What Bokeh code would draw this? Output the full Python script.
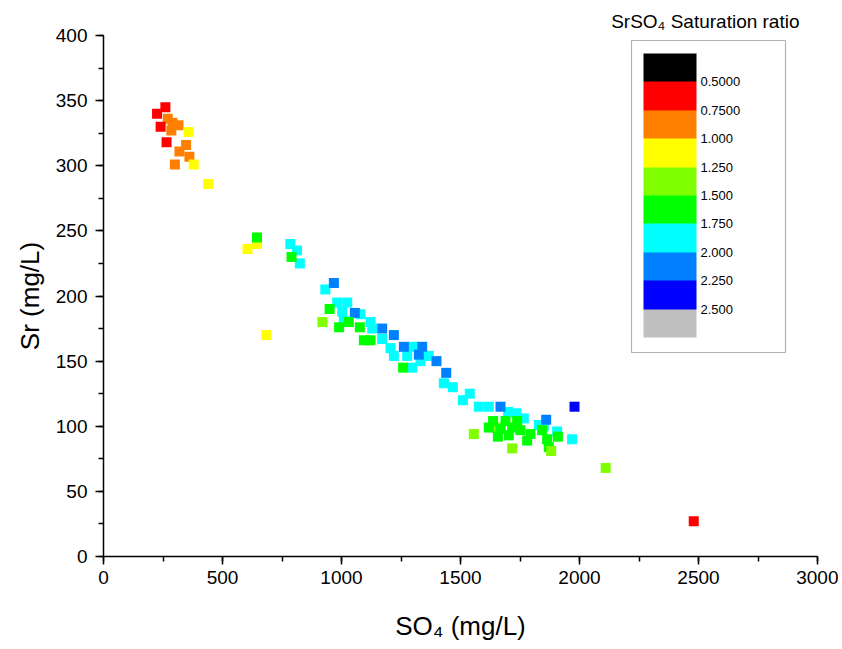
from bokeh.plotting import figure
from bokeh.models import (ColumnDataSource, LinearColorMapper, ColorBar, FixedTicker,
                          BoxAnnotation, SingleIntervalTicker, AllLabels)
from bokeh.transform import transform
from bokeh.embed import file_html
from bokeh.resources import INLINE

# ---- data (SO4 mg/L, Sr mg/L), grouped by SrSO4 saturation ratio class ----
orange_so4 = [270, 290, 315, 285, 347, 319, 361, 300]
orange_sr = [336, 333, 331, 327, 316, 311, 307, 301]
orange_ratio = 0.9

red_so4 = [260, 225, 240, 265, 2480]
red_sr = [345, 340, 330, 318, 27]
red_ratio = 0.6

yellow_so4 = [358, 379, 440, 605, 645, 685]
yellow_sr = [326, 301, 286, 236, 240, 170]
yellow_ratio = 1.1

yg_hidden_so4 = [1650]
yg_hidden_sr = [99]

cyan_so4 = [785, 813, 825, 932, 982, 1024, 1003, 1010, 1080, 1122, 1129, 1171, 1206,
            1220, 1297, 1276, 1332, 1297, 1367, 1430, 1468, 1539, 1510, 1577, 1619,
            1700, 1735, 1766, 1829, 1850, 1906, 1969]
cyan_sr = [240, 235, 225, 205, 195, 195, 188, 181, 186, 180, 175, 167, 160,
           154, 161, 154, 150, 145, 154, 133, 130, 125, 120, 115, 115,
           111, 110, 106, 101, 100, 96, 90]
cyan_ratio = 1.9

azure_so4 = [968, 1056, 1171, 1220, 1262, 1339, 1325, 1399, 1440, 1668, 1860]
azure_sr = [210, 187, 175, 170, 161, 161, 155, 150, 141, 115, 105]
azure_ratio = 2.1

green_so4 = [645, 790, 950, 990, 1031, 1077, 1094, 1122, 1259, 1637, 1689, 1738,
             1619, 1668, 1717, 1752, 1794, 1843, 1864, 1657, 1703, 1780, 1909, 1871]
green_sr = [245, 230, 190, 176, 180, 176, 166, 166, 145, 104, 104, 104,
            99, 98, 99, 97, 94, 97, 90, 92, 93, 89, 92, 84]
green_ratio = 1.6

yg_so4 = [920, 1556, 1717, 1881, 2110]
yg_sr = [180, 94, 83, 81, 68]
yg_ratio = 1.4

blue_so4 = [1979]
blue_sr = [115]
blue_ratio = 2.4

# legend classes
palette = ["#000000", "#FF0000", "#FF8000", "#FFFF00", "#80FF00",
           "#00FF00", "#00FFFF", "#0080FF", "#0000FF", "#C0C0C0"]
ratio_low, ratio_high = 0.25, 2.75
legend_ticks = [0.5, 0.75, 1.0, 1.25, 1.5, 1.75, 2.0, 2.25, 2.5]
legend_labels = ["0.5000", "0.7500", "1.000", "1.250", "1.500",
                 "1.750", "2.000", "2.250", "2.500"]

x_ticks_interval = 500
y_ticks_interval = 50

groups = [
    (orange_so4, orange_sr, orange_ratio),
    (red_so4, red_sr, red_ratio),
    (yellow_so4, yellow_sr, yellow_ratio),
    (yg_hidden_so4, yg_hidden_sr, yg_ratio),
    (cyan_so4, cyan_sr, cyan_ratio),
    (azure_so4, azure_sr, azure_ratio),
    (green_so4, green_sr, green_ratio),
    (yg_so4, yg_sr, yg_ratio),
    (blue_so4, blue_sr, blue_ratio),
]
xs, ys, rs = [], [], []
for gx, gy, r in groups:
    xs += gx
    ys += gy
    rs += [r] * len(gx)
source = ColumnDataSource(dict(so4=xs, sr=ys, ratio=rs))

mapper = LinearColorMapper(palette=palette, low=ratio_low, high=ratio_high)

FONT = "Liberation Sans"

p = figure(width=838, height=648, x_range=(0, 3000), y_range=(0, 400),
           output_backend="svg", toolbar_location=None,
           min_border_left=103, min_border_right=21, min_border_top=35, min_border_bottom=92)
p.outline_line_color = None
p.grid.visible = False
p.background_fill_color = "white"

p.title.text = "SrSO\u2084 Saturation ratio"
p.title.align = "right"
p.title.offset = 18
p.title.standoff = 7
p.title.text_font = FONT
p.title.text_font_size = "19px"
p.title.text_font_style = "normal"
p.title.text_color = "black"

p.scatter("so4", "sr", source=source, marker="square", size=10,
          fill_color=transform("ratio", mapper), line_color=None)

p.xaxis.ticker = SingleIntervalTicker(interval=x_ticks_interval, num_minor_ticks=2)
p.yaxis.ticker = SingleIntervalTicker(interval=y_ticks_interval, num_minor_ticks=2)
for ax in (p.xaxis[0], p.yaxis[0]):
    ax.axis_line_color = "black"
    ax.axis_line_width = 1.5
    ax.major_tick_line_color = "black"
    ax.minor_tick_line_color = "black"
    ax.major_tick_line_width = 1.5
    ax.minor_tick_line_width = 1.5
    ax.major_tick_in = 0
    ax.major_tick_out = 8
    ax.minor_tick_in = 0
    ax.minor_tick_out = 5
    ax.major_label_text_font = FONT
    ax.major_label_text_font_size = "19px"
    ax.major_label_text_color = "black"
    ax.axis_label_text_font = FONT
    ax.axis_label_text_font_size = "26px"
    ax.axis_label_text_font_style = "normal"
    ax.axis_label_text_color = "black"
p.xaxis.major_label_standoff = 6
p.yaxis.major_label_standoff = 8
p.xaxis.axis_label = "SO\u2084 (mg/L)"
p.yaxis.axis_label = "Sr (mg/L)"
p.xaxis.axis_label_standoff = 24
p.yaxis.axis_label_standoff = 8

# legend: colour classes, black at top to grey at bottom
legend_mapper = LinearColorMapper(palette=palette[::-1], low=ratio_low, high=ratio_high)
flip = ratio_low + ratio_high
cb = ColorBar(color_mapper=legend_mapper,
              ticker=FixedTicker(ticks=[flip - t for t in legend_ticks]),
              major_label_overrides={flip - t: lab for t, lab in zip(legend_ticks, legend_labels)},
              major_label_policy=AllLabels(),
              width=53, height=284, padding=0, margin=0,
              location=(540, 219),
              border_line_color=None, background_fill_color=None,
              major_tick_line_color=None, minor_tick_line_color=None, bar_line_color=None,
              label_standoff=4, major_label_text_font=FONT,
              major_label_text_font_size="13px", major_label_text_color="black")
p.add_layout(cb)

frame_box = BoxAnnotation(left=528, right=682, bottom=204, top=516,
                          left_units="screen", right_units="screen",
                          bottom_units="screen", top_units="screen",
                          fill_alpha=0, line_color="black", line_width=1.2)
p.add_layout(frame_box)

open("out.html", "w").write(file_html(p, INLINE))
